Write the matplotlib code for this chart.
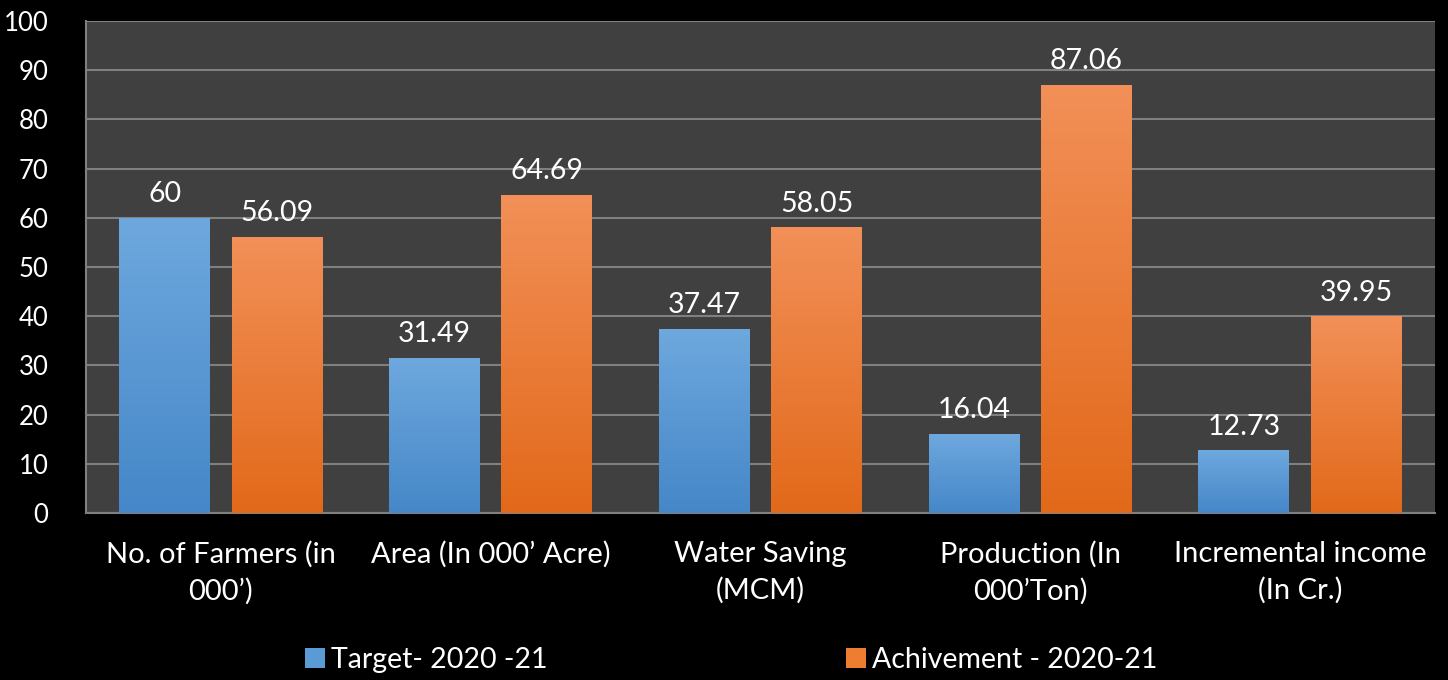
import numpy as np
import matplotlib.pyplot as plt
from matplotlib.patches import Patch
from matplotlib.colors import LinearSegmentedColormap

plt.rcParams['font.family'] = ['Lato', 'DejaVu Sans']

categories = ["No. of Farmers (in\n000’)", "Area (In 000’ Acre)", "Water Saving\n(MCM)",
              "Production (In\n000’Ton)", "Incremental income\n(In Cr.)"]
target = [60, 31.49, 37.47, 16.04, 12.73]
achievement = [56.09, 64.69, 58.05, 87.06, 39.95]
target_labels = ["60", "31.49", "37.47", "16.04", "12.73"]
achievement_labels = ["56.09", "64.69", "58.05", "87.06", "39.95"]
series_names = ["Target- 2020 -21", "Achivement - 2020-21"]

blue_cmap = LinearSegmentedColormap.from_list("b", ["#4587c8", "#6ea8de"])
orange_cmap = LinearSegmentedColormap.from_list("o", ["#e2691a", "#f29058"])

fig = plt.figure(figsize=(14.48, 6.8), dpi=100, facecolor="black")
ax = fig.add_axes([0.0594, 0.2456, 0.9316, 0.7234])
ax.set_facecolor("#404040")

x = np.arange(len(categories))
w = 0.337
off = 0.208

grad = np.linspace(0, 1, 256).reshape(-1, 1)
for vals, labels, cmap, sign in [(target, target_labels, blue_cmap, -1),
                                 (achievement, achievement_labels, orange_cmap, 1)]:
    bars = ax.bar(x + sign * off, vals, w, color="none", zorder=3)
    for b, v, lab in zip(bars, vals, labels):
        x0 = b.get_x()
        im = ax.imshow(grad, cmap=cmap, origin="lower", aspect="auto",
                       extent=[x0, x0 + w, 0, v], zorder=3)
        im.set_clip_path(b)
        ax.text(x0 + w / 2, v + 2.2, lab, ha="center", va="bottom",
                color="white", fontsize=20.5, zorder=4)

ax.set_xlim(-0.5, len(categories) - 0.5)
ax.set_ylim(0, 100)
ax.set_yticks(range(0, 101, 10))
ax.set_xticks(x)
ax.set_xticklabels(categories, color="white", fontsize=21, linespacing=1.45)
ax.tick_params(axis="y", colors="white", labelsize=18.5, length=0, pad=27)
ax.tick_params(axis="x", length=0, pad=20)
for lab in ax.get_yticklabels():
    lab.set_color("white")
ax.grid(axis="y", color="#808080", linewidth=1.5, zorder=1)
ax.set_axisbelow(True)
for s in ["top", "right"]:
    ax.spines[s].set_visible(False)
for s in ["left", "bottom"]:
    ax.spines[s].set_color("#808080")
    ax.spines[s].set_linewidth(1.5)

handles = [Patch(facecolor="#5b9bd5"), Patch(facecolor="#ed7d31")]
leg = fig.legend(handles, series_names, loc="center", bbox_to_anchor=(0.505, 0.03),
                 ncol=2, frameon=False, fontsize=20.5, labelcolor="white",
                 handlelength=0.7, handleheight=0.7, handletextpad=0.2,
                 columnspacing=10.5)

fig.savefig("out.png", dpi=100, facecolor="black")
